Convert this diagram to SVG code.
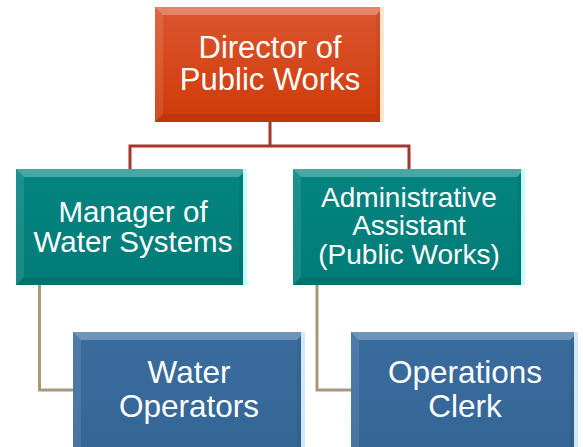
<svg xmlns="http://www.w3.org/2000/svg" width="583" height="447" viewBox="0 0 583 447">
<defs>
<linearGradient id="gOrange" x1="0" y1="0" x2="0" y2="1">
<stop offset="0" stop-color="#DC5630"/>
<stop offset="1" stop-color="#CF3A08"/>
</linearGradient>
<linearGradient id="gTeal" x1="0" y1="0" x2="0" y2="1">
<stop offset="0" stop-color="#058480"/>
<stop offset="1" stop-color="#007C78"/>
</linearGradient>
<linearGradient id="gBlue" x1="0" y1="0" x2="0" y2="1">
<stop offset="0" stop-color="#3A6C9E"/>
<stop offset="1" stop-color="#336595"/>
</linearGradient>
</defs>
<style>
.bt{fill:#ffffff;fill-opacity:0.28}
.bl{fill:#ffffff;fill-opacity:0.1}
.bb{fill:#000000;fill-opacity:0.08}
.br{fill:#000000;fill-opacity:0.05}
.sO{fill:#FFE6C8}
.sT{fill:#C4FFFF}
.sB{fill:#CFEAFF}
.lbl{font-family:"Liberation Sans",Arial,sans-serif;fill:#ffffff;text-anchor:middle}
.red{fill:none;stroke:#A3372C;stroke-width:3}
.tan{fill:none;stroke:#A8977A;stroke-width:3}
</style>
<g id="connectors">
<path class="red" d="M270,122 V146 M130,146 H409 M130,144.5 V169 M409,144.5 V169"/>
<path class="tan" d="M39.5,285 V390 H73 M317,285 V390 H351"/>
</g>
<g id="director">
<rect x="155" y="7" width="229" height="115" fill="url(#gOrange)"/>
<polygon class="bt" points="155,7 384,7 376,15 163,15"/>
<polygon class="bl" points="155,7 163,15 163,114 155,122"/>
<polygon class="bb" points="155,122 163,114 376,114 384,122"/>
<polygon class="br" points="384,7 384,122 376,114 376,15"/>
<rect class="sO" x="380" y="7" width="4" height="115"/>
<text class="lbl" font-size="31" x="270" y="57.5">Director of</text>
<text class="lbl" font-size="31" x="270" y="90">Public Works</text>
</g>
<g id="manager">
<rect x="16" y="169" width="231" height="116" fill="url(#gTeal)"/>
<polygon class="bt" points="16,169 247,169 239,177 24,177"/>
<polygon class="bl" points="16,169 24,177 24,277 16,285"/>
<polygon class="bb" points="16,285 24,277 239,277 247,285"/>
<polygon class="br" points="247,169 247,285 239,277 239,177"/>
<rect class="sT" x="243" y="169" width="4" height="116"/>
<text class="lbl" font-size="29.5" x="133" y="221.5">Manager of</text>
<text class="lbl" font-size="29.5" x="133" y="251.5">Water Systems</text>
</g>
<g id="admin">
<rect x="293" y="169" width="232" height="116" fill="url(#gTeal)"/>
<polygon class="bt" points="293,169 525,169 517,177 301,177"/>
<polygon class="bl" points="293,169 301,177 301,277 293,285"/>
<polygon class="bb" points="293,285 301,277 517,277 525,285"/>
<polygon class="br" points="525,169 525,285 517,277 517,177"/>
<rect class="sT" x="521" y="169" width="4" height="116"/>
<text class="lbl" font-size="28" x="409" y="206.5">Administrative</text>
<text class="lbl" font-size="28" x="409" y="235">Assistant</text>
<text class="lbl" font-size="28" x="409" y="264">(Public Works)</text>
</g>
<g id="water-operators">
<rect x="73" y="332" width="232" height="125" fill="url(#gBlue)"/>
<polygon class="bt" points="73,332 305,332 297,340 81,340"/>
<polygon class="bl" points="73,332 81,340 81,449 73,457"/>
<polygon class="br" points="305,332 305,457 297,449 297,340"/>
<rect class="sB" x="301" y="332" width="4" height="125"/>
<text class="lbl" font-size="31.5" x="189" y="382.5">Water</text>
<text class="lbl" font-size="31.5" x="189" y="416.5">Operators</text>
</g>
<g id="operations-clerk">
<rect x="351" y="332" width="227" height="125" fill="url(#gBlue)"/>
<polygon class="bt" points="351,332 578,332 570,340 359,340"/>
<polygon class="bl" points="351,332 359,340 359,449 351,457"/>
<polygon class="br" points="578,332 578,457 570,449 570,340"/>
<rect class="sB" x="574" y="332" width="4" height="125"/>
<text class="lbl" font-size="31.5" x="465" y="382.5">Operations</text>
<text class="lbl" font-size="31.5" x="465" y="416.5">Clerk</text>
</g>
</svg>
